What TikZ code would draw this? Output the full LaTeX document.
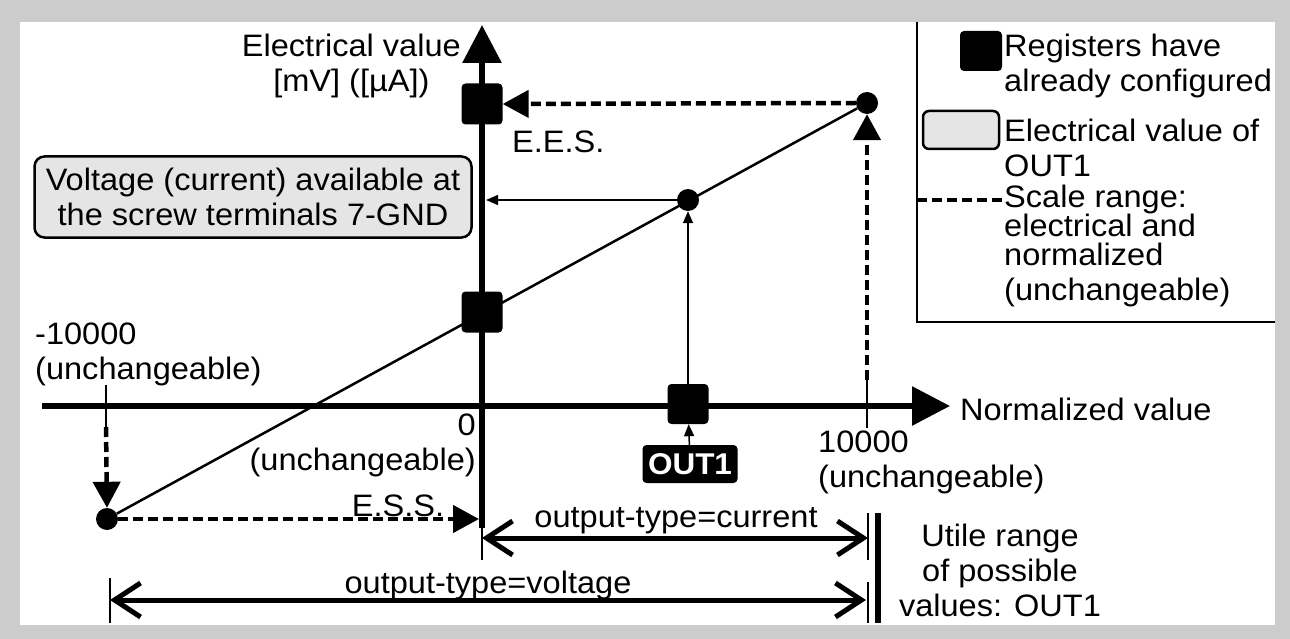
\documentclass[tikz,border=0pt]{standalone}
\usepackage{fontspec}
\setmainfont{Liberation Sans}[FakeStretch=1.05]
\usetikzlibrary{arrows.meta,positioning,calc}

\begin{document}
\begin{tikzpicture}[x=1pt,y=-1pt,
  every node/.style={font=\fontsize{31}{35}\selectfont,inner sep=0pt},
  reg/.style={fill=black,rounded corners=4pt,minimum width=41pt,minimum height=41pt},
  dot/.style={circle,fill=black,minimum size=22pt},
  scl/.style={line width=4.5pt,dash pattern=on 10pt off 5pt,-{Triangle[length=26pt,width=27pt]}},
  thinarrow/.style={line width=1.5pt,-{Triangle[length=12pt,width=10pt]}},
  dim/.style={line width=5pt,{Straight Barb[length=26pt,width=34pt]}-{Straight Barb[length=26pt,width=34pt]}},
  tick/.style={line width=1.5pt}]
\useasboundingbox (0,0) rectangle (1290,639);
\fill[black!20] (0,0) rectangle (1290,639);
\fill[white] (20,22) rectangle (1275,625);

% legend
\draw[line width=1.5pt] (917,22) -- (917,322) -- (1275,322);
\node[reg,name=legreg,minimum width=42pt,minimum height=40pt] at (981,51) {};
\node[anchor=west,align=left] at (1004,66) {Registers have\\already configured};
\node[draw,line width=2.5pt,fill=black!10,rounded corners=6pt,name=legbox,minimum width=76pt,minimum height=38pt] at (961,130) {};
\node[anchor=west,align=left] at (1004,148) {Electrical value of\\OUT1};
\coordinate (legdash) at (917,200);
\coordinate (legdashend) at (1002,200);
\draw[line width=4.5pt,dash pattern=on 10pt off 5pt] (legdash) -- (legdashend);
\node[anchor=west,align=left] at (1004,246) {Scale range:\\[-6pt]electrical and\\[-6pt]normalized\\(unchangeable)};

% axes
\coordinate (xstart) at (42,406);
\coordinate (xend) at (950,406);
\coordinate (ystart) at (482,528);
\coordinate (yend) at (482,25);
\draw[line width=6pt,-{Triangle[length=38pt,width=38pt]}] (xstart) -- (xend);
\draw[line width=6pt,-{Triangle[length=38pt,width=38pt]}] (ystart) -- (yend);
\node[anchor=west] at (960,409) {Normalized value};
\node[anchor=east,align=center] at (461,66) {Electrical value\\{[mV] ([µA])}};

% registers and points
\node[reg,name=ees] at (482,104) {};
\node[reg,name=zero] at (482,312) {};
\node[reg,name=out,minimum height=40pt] at (688,404) {};
\node[dot,name=hi] at (867,103) {};
\node[dot,name=val] at (688,200) {};
\node[dot,name=lo] at (107,519) {};
\draw[line width=2.5pt] (lo) -- (hi);

\node[fill=black,text=white,font=\fontsize{30}{35}\selectfont\bfseries,rounded corners=4pt,minimum width=95pt,minimum height=38pt,name=outlbl] at (690,464) {OUT1};
\coordinate (yaxval) at (486,200);
\draw[thinarrow] (outlbl) -- (out);
\draw[thinarrow] (out) -- (val);
\draw[thinarrow] (val) -- (yaxval);

\node[draw,line width=2.5pt,fill=black!10,rounded corners=10pt,align=center,minimum width=437pt,minimum height=81pt,name=volt] at (253,197) {Voltage (current) available at\\the screw terminals 7-GND};

% scale range
\coordinate (hitick) at (867,373);
\coordinate (hitickend) at (867,428);
\coordinate (lotick) at (106,385);
\coordinate (lotickend) at (106,427);
\coordinate (yaxlo) at (479,519);
\draw[tick] (hitick) -- (hitickend);
\draw[tick] (lotick) -- (lotickend);
\draw[scl] (hi.west) -- (ees.east);
\draw[scl] (867,380) -- (hi.south);
\draw[scl] (lotickend) -- (lo.north);
\draw[scl] (lo.east) -- (yaxlo);
\node[anchor=west] at (512,142) {E.E.S.};
\node at (398,506) {E.S.S.};
\node[anchor=west,align=left] at (35,354) {-10000\\(unchangeable)};
\node[anchor=east,align=right] at (476,445) {0\\(unchangeable)};
\node[anchor=west,align=left] at (818,462) {10000\\(unchangeable)};

% useful range
\coordinate (curl) at (482,538);
\coordinate (curr) at (868,538);
\coordinate (voll) at (110,600);
\coordinate (volr) at (866,600);
\draw[tick] (482,500) -- (482,560);
\draw[tick] (868,513) -- (868,560);
\draw[tick] (868,582) -- (868,623);
\draw[tick] (110,578) -- (110,623);
\draw[dim] (curl) -- (curr);
\draw[dim] (voll) -- (volr);
\draw[line width=6pt] (878,513) -- (878,623);
\node at (676,521) {output-type=current};
\node at (488,585) {output-type=voltage};
\node[align=center] at (1000,570) {Utile range\\of possible\\values: OUT1};
\end{tikzpicture}
\end{document}
